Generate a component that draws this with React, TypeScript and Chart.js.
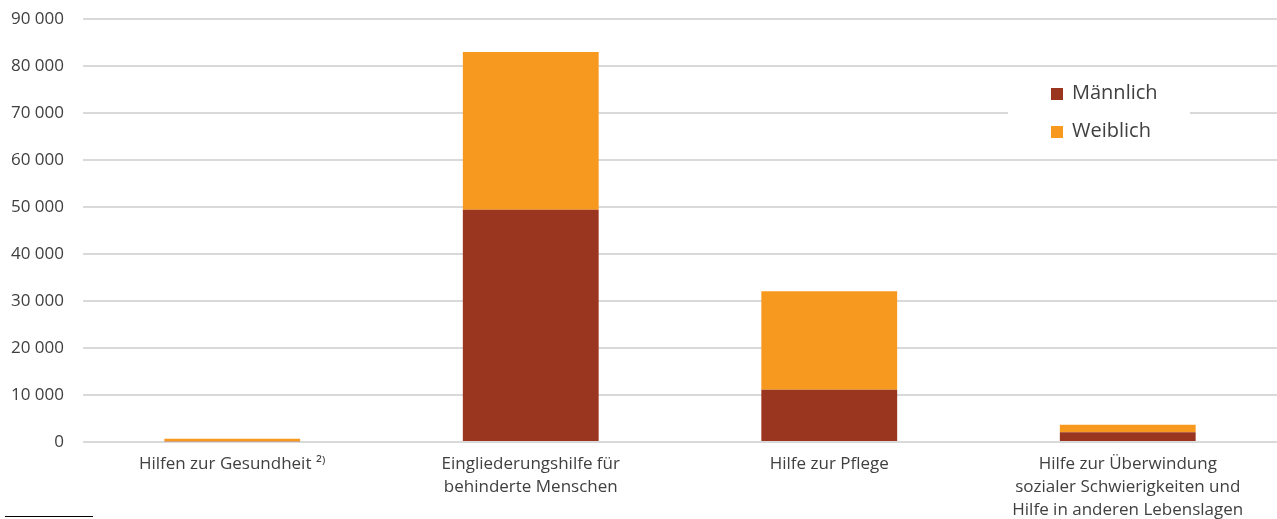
import React, { useEffect, useRef } from "react";
import { Chart, registerables } from "chart.js";

Chart.register(...registerables);

const categories: string[][] = [
  ["Hilfen zur Gesundheit ²⁾"],
  ["Eingliederungshilfe für", "behinderte Menschen"],
  ["Hilfe zur Pflege"],
  ["Hilfe zur Überwindung", "sozialer Schwierigkeiten und", "Hilfe in anderen Lebenslagen"],
];
const maleValues = [150, 49400, 11100, 2100];
const femaleValues = [550, 33600, 21000, 1550];
const seriesNames = ["Männlich", "Weiblich"];
const seriesColors = ["#9A3520", "#F7991F"];
const yTicks = [0, 10000, 20000, 30000, 40000, 50000, 60000, 70000, 80000, 90000];

const FONT = "'Open Sans', 'Noto Sans', sans-serif";
const TEXT = "#404040";

const legendPlugin = {
  id: "boxLegend",
  afterDraw(chart: any) {
    const ctx = chart.ctx;
    ctx.save();
    ctx.fillStyle = "#ffffff";
    ctx.fillRect(1008, 72, 182, 80);
    chart.data.datasets.forEach((ds: any, i: number) => {
      const cy = 93 + i * 38;
      ctx.fillStyle = ds.backgroundColor;
      ctx.fillRect(1051, cy - 5, 12, 12);
      ctx.fillStyle = TEXT;
      ctx.font = `20px ${FONT}`;
      ctx.textBaseline = "middle";
      ctx.textAlign = "left";
      ctx.fillText(ds.label, 1072, cy);
    });
    ctx.restore();
  },
};

export default function App() {
  const ref = useRef<HTMLCanvasElement>(null);
  useEffect(() => {
    if (!ref.current) return;
    const chart = new Chart(ref.current, {
      type: "bar",
      data: {
        labels: categories,
        datasets: [
          { label: seriesNames[0], data: maleValues, backgroundColor: seriesColors[0] },
          { label: seriesNames[1], data: femaleValues, backgroundColor: seriesColors[1] },
        ],
      },
      options: {
        animation: false,
        responsive: true,
        maintainAspectRatio: false,
        layout: { padding: { top: 19, left: 0, right: 0, bottom: 0 } },
        datasets: { bar: { barPercentage: 0.455, categoryPercentage: 1 } },
        plugins: { legend: { display: false }, tooltip: { enabled: false } },
        scales: {
          x: {
            stacked: true,
            grid: { display: false, drawTicks: false },
            border: { display: false },
            ticks: {
              padding: 11,
              color: TEXT,
              font: { family: FONT, size: 17, lineHeight: 1.35 },
              maxRotation: 0,
              autoSkip: false,
            },
            afterFit: (s: any) => {
              s.height = 77;
              s.paddingLeft = 0;
              s.paddingRight = 0;
            },
          },
          y: {
            stacked: true,
            min: 0,
            max: 90000,
            afterBuildTicks: (s: any) => {
              s.ticks = yTicks.map((v) => ({ value: v }));
            },
            grid: { color: "#d9d9d9", lineWidth: 2, drawTicks: false },
            border: { display: false },
            ticks: {
              padding: 19,
              color: TEXT,
              font: { family: FONT, size: 17 },
              callback: (v: any) => Number(v).toLocaleString("en-US").replace(/,/g, " "),
            },
            afterFit: (s: any) => {
              s.width = 83;
              s.paddingTop = 0;
              s.paddingBottom = 0;
            },
          },
        },
      },
      plugins: [legendPlugin],
    });
    return () => chart.destroy();
  }, []);
  return (
    <div style={{ position: "fixed", left: 0, top: 0, width: 1277, height: 519, background: "#fff" }}>
      <canvas ref={ref} />
      <div style={{ position: "absolute", left: 5, top: 516, width: 88, height: 1, background: "#000" }} />
    </div>
  );
}
